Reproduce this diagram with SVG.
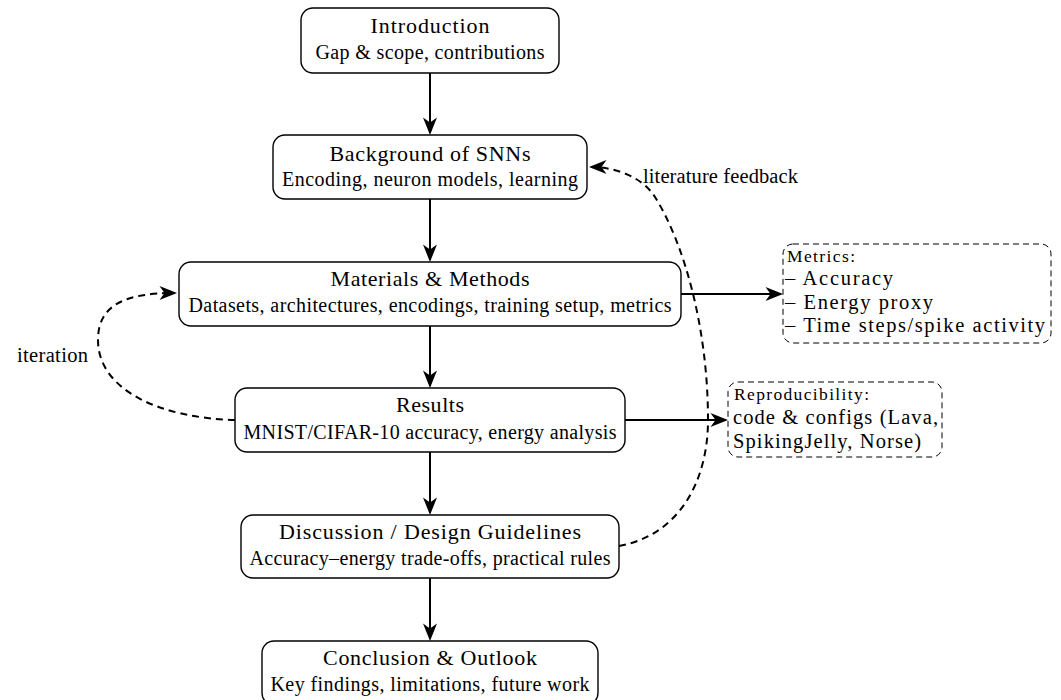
<svg xmlns="http://www.w3.org/2000/svg" width="1061" height="700" viewBox="0 0 1061 700">
<style>
.box{fill:#fff;stroke:#000;stroke-width:1.4}
.dbox{fill:none;stroke:#000;stroke-width:1;stroke-dasharray:6 4}
.t{font-family:"Liberation Serif","Times New Roman",serif;font-size:22px;fill:#000;text-anchor:middle}
.s{font-family:"Liberation Serif","Times New Roman",serif;font-size:20px;fill:#000;text-anchor:middle}
.l{font-family:"Liberation Serif","Times New Roman",serif;font-size:20.5px;fill:#000}
.h{font-family:"Liberation Serif","Times New Roman",serif;font-size:17.5px;fill:#000}
.c{fill:none;stroke:#000;stroke-width:2}
.d{fill:none;stroke:#000;stroke-width:2;stroke-dasharray:7 5}
</style>
<defs>
<marker id="ah" markerUnits="userSpaceOnUse" viewBox="0 0 19 15" markerWidth="19" markerHeight="15" refX="17" refY="7.5" orient="auto">
<path d="M19,7.5 L1.5,0.5 L6.5,7.5 L1.5,14.5 z" fill="#000"/>
</marker>
</defs>

<g id="connectors">
<line class="c" x1="430" y1="73" x2="430" y2="133" marker-end="url(#ah)"/>
<line class="c" x1="430" y1="199" x2="430" y2="260" marker-end="url(#ah)"/>
<line class="c" x1="430" y1="326" x2="430" y2="386" marker-end="url(#ah)"/>
<line class="c" x1="430" y1="452" x2="430" y2="513" marker-end="url(#ah)"/>
<line class="c" x1="430" y1="578" x2="430" y2="639" marker-end="url(#ah)"/>
<line class="c" x1="681" y1="294" x2="781" y2="294" marker-end="url(#ah)"/>
<line class="c" x1="625" y1="420" x2="726" y2="420" marker-end="url(#ah)"/>
<path class="d" d="M235,420 C160,418 98,390 98,340 C98,305 125,293 175,293" marker-end="url(#ah)"/>
<path class="d" d="M619,546 C680,535 708,480 708,420 C708,330 685,245 655,197 C643,178 617,167 591,167" marker-end="url(#ah)"/>
<text class="l" x="17" y="362" textLength="71">iteration</text>
<text class="l" x="643" y="183" textLength="155">literature feedback</text>
</g>

<g id="introduction">
<rect class="box" x="301" y="8" width="258" height="65" rx="12"/>
<text class="t" x="430" y="33" textLength="119">Introduction</text>
<text class="s" x="430" y="59" textLength="229">Gap &amp; scope, contributions</text>
</g>

<g id="background">
<rect class="box" x="273" y="135" width="314" height="64" rx="12"/>
<text class="t" x="430" y="160.5" textLength="201">Background of SNNs</text>
<text class="s" x="430" y="185.5" textLength="296">Encoding, neuron models, learning</text>
</g>

<g id="materials">
<rect class="box" x="179" y="262" width="502" height="64" rx="12"/>
<text class="t" x="430" y="286" textLength="199">Materials &amp; Methods</text>
<text class="s" x="430" y="311.5" textLength="483">Datasets, architectures, encodings, training setup, metrics</text>
</g>

<g id="results">
<rect class="box" x="235" y="388" width="390" height="64" rx="12"/>
<text class="t" x="430" y="412" textLength="68">Results</text>
<text class="s" x="430" y="438.5" textLength="373">MNIST/CIFAR-10 accuracy, energy analysis</text>
</g>

<g id="discussion">
<rect class="box" x="241" y="515" width="378" height="63" rx="12"/>
<text class="t" x="430" y="539" textLength="302">Discussion / Design Guidelines</text>
<text class="s" x="430" y="565" textLength="361">Accuracy–energy trade-offs, practical rules</text>
</g>

<g id="conclusion">
<rect class="box" x="262" y="641" width="336" height="64" rx="12"/>
<text class="t" x="430" y="665" textLength="214">Conclusion &amp; Outlook</text>
<text class="s" x="430" y="691" textLength="319">Key findings, limitations, future work</text>
</g>

<g id="metrics">
<rect class="dbox" x="783" y="244" width="268" height="99" rx="10"/>
<text class="h" x="787" y="262" textLength="68">Metrics:</text>
<text class="l" x="785" y="285" textLength="108">– Accuracy</text>
<text class="l" x="785" y="309" textLength="148">– Energy proxy</text>
<text class="l" x="785" y="332" textLength="260">– Time steps/spike activity</text>
</g>

<g id="reproducibility">
<rect class="dbox" x="728" y="382" width="214" height="75" rx="10"/>
<text class="h" x="734" y="400" textLength="135">Reproducibility:</text>
<text class="l" x="733" y="424" textLength="205">code &amp; configs (Lava,</text>
<text class="l" x="733" y="448" textLength="188">SpikingJelly, Norse)</text>
</g>
</svg>
